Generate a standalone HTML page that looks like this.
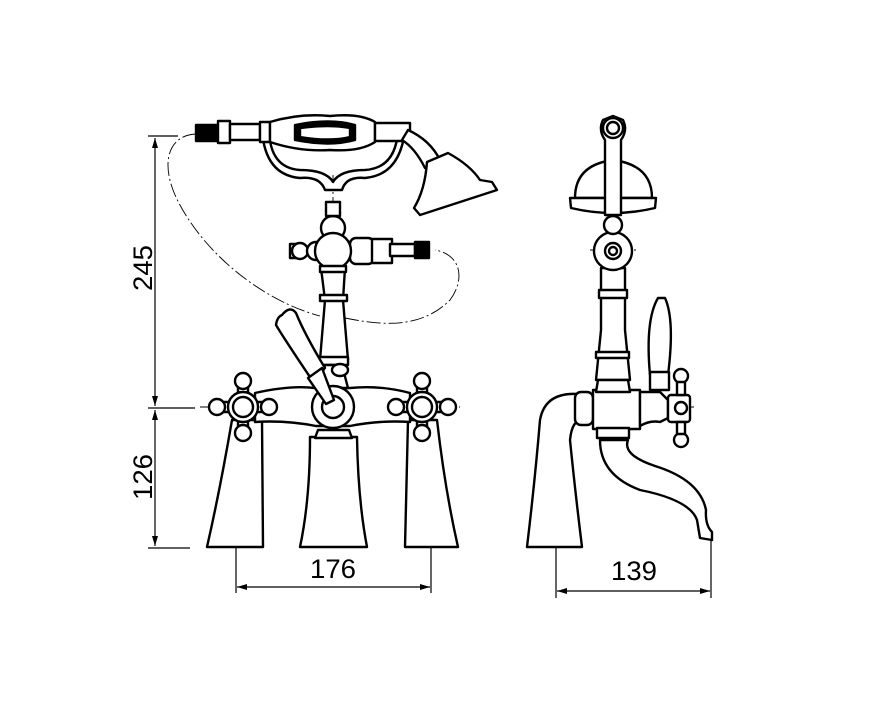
<!DOCTYPE html>
<html><head><style>
html,body{margin:0;padding:0;background:#fff;}
svg{display:block}
text{font-family:"Liberation Sans",sans-serif;font-size:27px;fill:#000;}
</style></head><body>
<svg width="877" height="713" viewBox="0 0 877 713" xmlns="http://www.w3.org/2000/svg">
<defs>
<marker id="a" viewBox="0 0 10 6" refX="10" refY="3" markerWidth="10" markerHeight="6" orient="auto-start-reverse" markerUnits="userSpaceOnUse"><path d="M0,0L10,3L0,6Z"/></marker>
</defs>
<g stroke="#000" fill="none" stroke-width="1.2">
<!-- dimension lines -->
<line x1="148" y1="136" x2="178" y2="136"/>
<line x1="148" y1="408" x2="195" y2="408"/>
<line x1="148" y1="548" x2="190" y2="548"/>
<line x1="155" y1="138" x2="155" y2="406" marker-start="url(#a)" marker-end="url(#a)"/>
<line x1="155" y1="410" x2="155" y2="546" marker-start="url(#a)" marker-end="url(#a)"/>
<line x1="236" y1="533" x2="236" y2="593"/>
<line x1="431" y1="533" x2="431" y2="593"/>
<line x1="237" y1="587" x2="430" y2="587" marker-start="url(#a)" marker-end="url(#a)"/>
<line x1="556" y1="543" x2="556" y2="598"/>
<line x1="711" y1="540" x2="711" y2="598"/>
<line x1="557" y1="591" x2="710" y2="591" marker-start="url(#a)" marker-end="url(#a)"/>
<!-- center lines -->
<g stroke-dasharray="14 3 2 3" stroke-width="0.9">
<line x1="333" y1="175" x2="333" y2="470"/>
<line x1="195" y1="132" x2="410" y2="132"/>
<line x1="290" y1="250" x2="430" y2="250"/>
<line x1="200" y1="407" x2="460" y2="407"/>
<line x1="613" y1="115" x2="613" y2="445"/>
<line x1="570" y1="407" x2="695" y2="407"/>
<line x1="590" y1="250" x2="636" y2="250"/>
<path d="M196,134 C170,135 160,160 175,195 C200,250 260,300 320,316 M345,318 C380,325 420,330 450,300 C465,280 462,255 435,250"/>
</g>
</g>
<g stroke="#000" fill="#fff" stroke-width="2.4" stroke-linejoin="round">
<!-- ===== FRONT VIEW ===== -->
<!-- legs -->
<path d="M232,420 L262,420 L263,547 L207,547 Q220,490 232,420Z"/>
<path d="M408,420 L437,420 Q445,490 458,547 L405,547 L408,420Z"/>
<path d="M310,437 L357,437 Q358,500 367,547 L300,547 Q310,500 310,437Z"/>
<path d="M318,430 L349,430 L352,438 L315,438Z"/>
<!-- crossbar -->
<path d="M255,393 Q290,385 315,388 L350,388 Q380,385 410,393 L410,422 Q380,420 350,426 L316,426 Q285,420 255,422Z"/>
<!-- column -->
<path d="M321,268 L345,268 L343,300 L348,360 L320,360 L325,300Z"/>
<rect x="320" y="295" width="27" height="6"/>
<rect x="318" y="357" width="30" height="8"/>
<path d="M325,365 L342,365 L348,388 L318,388Z"/>
<ellipse cx="340" cy="370" rx="8" ry="6"/>
<!-- center valve -->
<circle cx="333" cy="407" r="21"/>
<circle cx="333" cy="407" r="11"/>
<!-- lever -->
<path d="M282,315 Q290,305 296,313 Q305,335 325,368 L312,380 Q285,340 276,325 Q277,317 282,315Z"/>
<path d="M308,378 L322,368 L334,400 L326,404Z"/>
<!-- cross handles -->
<g id="h">
<rect x="238" y="377" width="10" height="60"/>
<rect x="213" y="402" width="60" height="10"/>
<circle cx="243" cy="381" r="8"/><circle cx="243" cy="433" r="8"/>
<circle cx="217" cy="407" r="8"/><circle cx="269" cy="407" r="8"/>
<circle cx="243" cy="407" r="15"/>
<circle cx="243" cy="407" r="10"/>
</g>
<use href="#h" x="179"/>
<!-- upper body -->
<circle cx="333" cy="228" r="12"/>
<rect x="326" y="202" width="14" height="14"/>
<rect x="290" y="244" width="10" height="14"/>
<circle cx="300" cy="251" r="8"/>
<circle cx="316" cy="251" r="9"/>
<rect x="350" y="238" width="24" height="26" rx="6"/>
<rect x="372" y="239" width="20" height="24"/>
<rect x="390" y="244" width="25" height="12"/>
<rect x="415" y="242" width="14" height="16" fill="#000"/>
<circle cx="333" cy="251" r="18"/>
<rect x="320" y="266" width="26" height="6"/>
<!-- cradle -->
<path d="M262,130 Q265,175 300,178 Q320,176 325,190 L342,190 Q346,176 365,178 Q400,175 405,130 L398,130 Q396,168 365,170 Q340,170 333,182 Q326,170 300,170 Q270,168 269,130Z"/>
<!-- handset -->
<rect x="196" y="125" width="22" height="16" fill="#000"/>
<rect x="218" y="121" width="12" height="22"/>
<rect x="230" y="124" width="30" height="16"/>
<rect x="260" y="122" width="10" height="20"/>
<path d="M270,122 Q300,113 330,116 Q360,113 375,122 L375,142 Q360,152 330,150 Q300,152 270,142Z"/>
<path d="M295,125 Q330,118 355,125 L355,140 Q330,147 295,140Z" fill="#000"/>
<path d="M300,128 Q330,124 350,128 L350,137 Q330,142 300,137Z"/>
<rect x="375" y="123" width="35" height="18"/>
<!-- shower head -->
<path d="M408,130 Q430,140 440,160 L425,168 Q415,148 402,140Z"/>
<path d="M427,162 L448,153 Q470,165 480,180 L492,182 L497,190 L420,215 L414,208 Q425,190 427,162Z"/>
<!-- ===== SIDE VIEW ===== -->
<!-- spout -->
<path d="M578,394 Q545,392 540,420 Q535,480 527,547 L582,547 Q575,490 570,440 Q572,420 582,420Z"/>
<path d="M600,440 Q600,475 640,490 Q690,500 697,520 L700,538 L712,540 L712,532 Q705,525 706,510 Q700,480 655,466 Q622,455 628,440Z"/>
<!-- body -->
<rect x="575" y="392" width="18" height="33" rx="6"/>
<rect x="593" y="390" width="47" height="39"/>
<rect x="597" y="428" width="32" height="10"/>
<path d="M640,392 L660,392 L668,400 L668,418 L660,422 Q650,420 640,426Z"/>
<rect x="668" y="395" width="22" height="27" rx="3"/>
<circle cx="681" cy="376" r="7"/><circle cx="681" cy="440" r="7"/>
<rect x="677" y="382" width="8" height="13"/><rect x="677" y="422" width="8" height="12"/>
<circle cx="681" cy="408" r="6"/>
<!-- lever -->
<path d="M658,298 L665,298 Q675,320 668,375 L650,375 Q645,320 658,298Z"/>
<rect x="650" y="372" width="19" height="18"/>
<!-- column -->
<path d="M601,268 L625,268 L625,330 L630,380 L596,380 L601,330Z"/>
<rect x="599" y="290" width="28" height="8"/>
<rect x="596" y="352" width="33" height="6"/>
<path d="M598,380 L628,380 L630,392 L596,392Z"/>
<circle cx="613" cy="251" r="19"/>
<circle cx="613" cy="251" r="8"/>
<circle cx="613" cy="251" r="4"/>
<circle cx="613" cy="225" r="9"/>
<!-- shower head side -->
<path d="M575,198 Q575,165 613,160 Q652,165 652,198Z"/>
<path d="M570,198 L656,198 L655,208 Q613,218 571,208Z"/>
<path d="M605,215 L605,140 Q598,130 603,120 L613,116 L623,120 Q628,130 621,140 L621,215Z"/>
<circle cx="613" cy="128" r="10"/>
<circle cx="613" cy="128" r="6"/>
</g>
<text x="333" y="578" text-anchor="middle" textLength="46" lengthAdjust="spacingAndGlyphs">176</text>
<text x="634" y="580" text-anchor="middle" textLength="46" lengthAdjust="spacingAndGlyphs">139</text>
<text transform="translate(152,268) rotate(-90)" text-anchor="middle" textLength="46" lengthAdjust="spacingAndGlyphs">245</text>
<text transform="translate(152,477) rotate(-90)" text-anchor="middle" textLength="46" lengthAdjust="spacingAndGlyphs">126</text>
</svg>
</body></html>
